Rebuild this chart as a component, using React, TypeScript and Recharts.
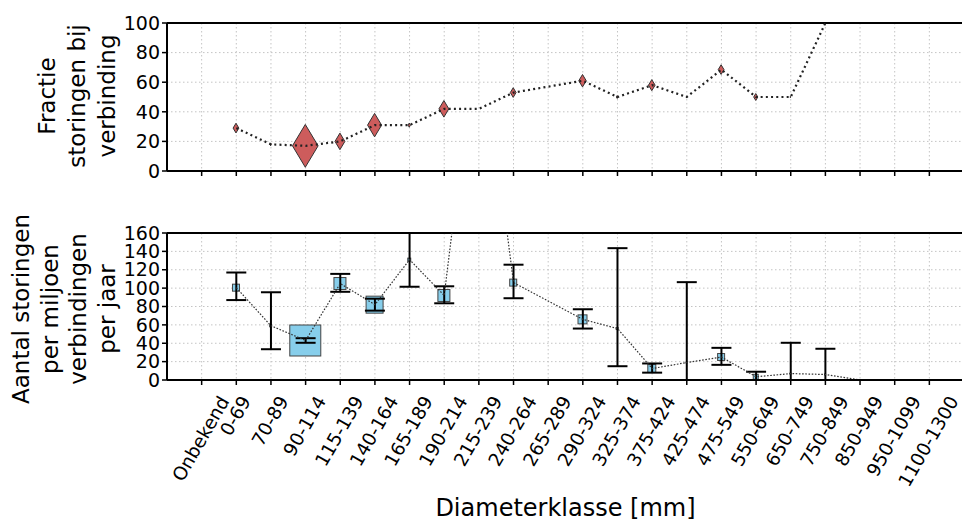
import React from "react";
import {
  ComposedChart,
  Bar,
  Line,
  XAxis,
  YAxis,
  CartesianGrid,
  ReferenceLine,
  ErrorBar,
} from "recharts";

const categories = [
  "Onbekend", "0-69", "70-89", "90-114", "115-139", "140-164", "165-189",
  "190-214", "215-239", "240-264", "265-289", "290-324", "325-374", "375-424",
  "425-474", "475-549", "550-649", "650-749", "750-849", "850-949",
  "950-1099", "1100-1300",
];

// fractie storingen bij verbinding [%]
const fraction = [
  null, 29, 18, 17, 20, 31, 31, 42, 42, 53, null, 61, 50, 58, 50, 68.5, 50,
  50, 100, null, null, null,
];

// aantal storingen per miljoen verbindingen per jaar
const rate = [
  null, 100.5, 59, 43, 105, 82, 131, 92, 400, 106, null, 66, 56, 12.5, 19,
  25, 3.5, 7, 6, 0, null, null,
];
const rateLow = [
  null, 87, 33.5, 40.5, 96, 75.5, 101.5, 83.5, null, 89, null, 56, 15, 8, 0,
  16.5, 0, 0, 0, null, null, null,
];
// upper bound of 165-189 runs off the top of the axis
const rateHigh = [
  null, 117, 95.5, 45.5, 115.5, 88.5, 160, 102, null, 125.5, null, 77, 143.5,
  18, 106.5, 35, 9, 40.5, 34, null, null, null,
];

// marker size (relative weight per class)
const weight = [
  0, 7, 2, 31, 12, 17, 3, 12, 0, 7, 0, 9, 2, 8, 1, 7, 5, 1, 1, 0, 0, 0,
];

const fracTicks = [0, 20, 40, 60, 80, 100];
const rateTicks = [0, 20, 40, 60, 80, 100, 120, 140, 160];

const rows = categories.map((c, i) => ({
  i,
  frac: fraction[i],
  rate: rate[i],
  err:
    rateLow[i] == null || rate[i] == null
      ? null
      : [rate[i]! - rateLow[i]!, rateHigh[i]! - rate[i]!],
  size: weight[i],
}));
const xTicks = categories.map((_, i) => i);

const FONT = "DejaVu Sans";
const W = 980;

const charW: Record<string, number> = {
  "-": 0.361, O: 0.787, n: 0.634, b: 0.635, e: 0.615, k: 0.579, d: 0.635,
};
function textWidth(s: string) {
  let w = 0;
  for (const ch of s) w += charW[ch] ?? 0.636;
  return w;
}

function DiameterTick({ x, y, payload }: any) {
  const label = categories[payload.value];
  if (!label) return <g />;
  const fs = 18.5;
  const w = textWidth(label) * fs;
  const rotH = w * Math.sin(Math.PI / 3) + fs * 0.5;
  const cx = x - 1;
  const cy = y + 6 + rotH / 2;
  return (
    <text
      x={cx}
      y={cy}
      textAnchor="middle"
      dominantBaseline="central"
      fontSize={fs}
      fontFamily={FONT}
      fill="#000"
      transform={`rotate(-60, ${cx}, ${cy})`}
    >
      {label}
    </text>
  );
}

// markers are drawn at the top of an (invisible) bar, so they sit under lines and error bars
function Diamond({ x, y, width, payload }: any) {
  if (x == null || y == null || !payload || !payload.size) return <g />;
  const cx = x + width / 2;
  const h = payload.size * 1.38;
  const w = h * 0.6;
  return (
    <polygon
      points={`${cx},${y - h / 2} ${cx + w / 2},${y} ${cx},${y + h / 2} ${cx - w / 2},${y}`}
      fill="#cd5c5c"
      stroke="#333"
      strokeWidth={1}
    />
  );
}

function Square({ x, y, width, payload }: any) {
  if (x == null || y == null || !payload || !payload.size) return <g />;
  const cx = x + width / 2;
  const s = payload.size;
  return (
    <rect
      x={cx - s / 2}
      y={y - s / 2}
      width={s}
      height={s}
      fill="#87ceeb"
      stroke="#444"
      strokeWidth={1}
    />
  );
}

const gridProps = {
  stroke: "#c4c4c4",
  strokeDasharray: "1.5 2.5",
  strokeWidth: 1,
};
const axisLine = { stroke: "#000", strokeWidth: 2 };
const tickLine = { stroke: "#000", strokeWidth: 1.5 };
const yTick = { fontSize: 19, fill: "#000", fontFamily: FONT };

function YTitle({
  lines,
  cy,
  x0,
  gap,
}: {
  lines: string[];
  cy: number;
  x0: number;
  gap: number;
}) {
  return (
    <text
      transform="rotate(-90)"
      fontSize={23}
      fontFamily={FONT}
      fill="#000"
      textAnchor="middle"
    >
      {lines.map((l, k) => (
        <tspan key={k} x={-cy} y={x0 + k * gap}>
          {l}
        </tspan>
      ))}
    </text>
  );
}

export default function App() {
  return (
    <div
      style={{
        position: "fixed",
        left: 0,
        top: 0,
        width: 962,
        height: 521,
        overflow: "hidden",
        background: "#fff",
        fontFamily: FONT,
      }}
    >
      <div style={{ position: "absolute", left: 0, top: 0 }}>
        <ComposedChart
          width={W}
          height={200}
          data={rows}
          margin={{ top: 23, right: 16, bottom: 0, left: 107 }}
        >
          <CartesianGrid {...gridProps} />
          <XAxis
            dataKey="i"
            type="number"
            domain={[-1, 22]}
            ticks={xTicks}
            interval={0}
            height={29}
            axisLine={axisLine}
            tickLine={tickLine}
            tickSize={5}
            tick={() => <g />}
          />
          <YAxis
            type="number"
            domain={[0, 100]}
            ticks={fracTicks}
            interval={0}
            allowDataOverflow
            width={60}
            axisLine={axisLine}
            tickLine={tickLine}
            tickSize={5}
            tickMargin={2}
            tick={yTick}
          />
          <ReferenceLine y={100} stroke="#000" strokeWidth={2} />
          <ReferenceLine x={22} stroke="#000" strokeWidth={2} />
          <Bar
            dataKey="frac"
            barSize={10}
            shape={(p: any) => <Diamond {...p} />}
            isAnimationActive={false}
          />
          <Line
            dataKey="frac"
            stroke="#222"
            strokeWidth={2.2}
            strokeDasharray="2 3.2"
            connectNulls
            dot={false}
            activeDot={false}
            isAnimationActive={false}
          />
        </ComposedChart>
      </div>
      <div style={{ position: "absolute", left: 0, top: 200 }}>
        <ComposedChart
          width={W}
          height={321}
          data={rows}
          margin={{ top: 33, right: 16, bottom: 0, left: 107 }}
        >
          <CartesianGrid {...gridProps} />
          <XAxis
            dataKey="i"
            type="number"
            domain={[-1, 22]}
            ticks={xTicks}
            interval={0}
            height={141}
            axisLine={axisLine}
            tickLine={tickLine}
            tickSize={5}
            tickMargin={2}
            tick={<DiameterTick />}
            label={{
              value: "Diameterklasse [mm]",
              position: "insideBottom",
              offset: 5,
              fontSize: 24,
              fill: "#000",
              fontFamily: FONT,
            }}
          />
          <YAxis
            type="number"
            domain={[0, 160]}
            ticks={rateTicks}
            interval={0}
            allowDataOverflow
            width={60}
            axisLine={axisLine}
            tickLine={tickLine}
            tickSize={5}
            tickMargin={2}
            tick={yTick}
          />
          <ReferenceLine y={160} stroke="#000" strokeWidth={2} />
          <ReferenceLine x={22} stroke="#000" strokeWidth={2} />
          <Bar
            dataKey="rate"
            barSize={10}
            shape={(p: any) => <Square {...p} />}
            isAnimationActive={false}
          />
          <Line
            dataKey="rate"
            stroke="#333"
            strokeWidth={1.2}
            strokeDasharray="1.6 1.6"
            connectNulls
            dot={false}
            activeDot={false}
            isAnimationActive={false}
          >
            <ErrorBar
              dataKey="err"
              direction="y"
              width={10}
              stroke="#000"
              strokeWidth={2}
              isAnimationActive={false}
            />
          </Line>
        </ComposedChart>
      </div>
      <svg
        width={962}
        height={521}
        style={{ position: "absolute", left: 0, top: 0, pointerEvents: "none" }}
      >
        <YTitle
          lines={["Fractie", "storingen bij", "verbinding"]}
          cy={96}
          x0={55}
          gap={30}
        />
        <YTitle
          lines={["Aantal storingen", "per miljoen", "verbindingen", "per jaar"]}
          cy={309}
          x0={29}
          gap={28.5}
        />
      </svg>
    </div>
  );
}
